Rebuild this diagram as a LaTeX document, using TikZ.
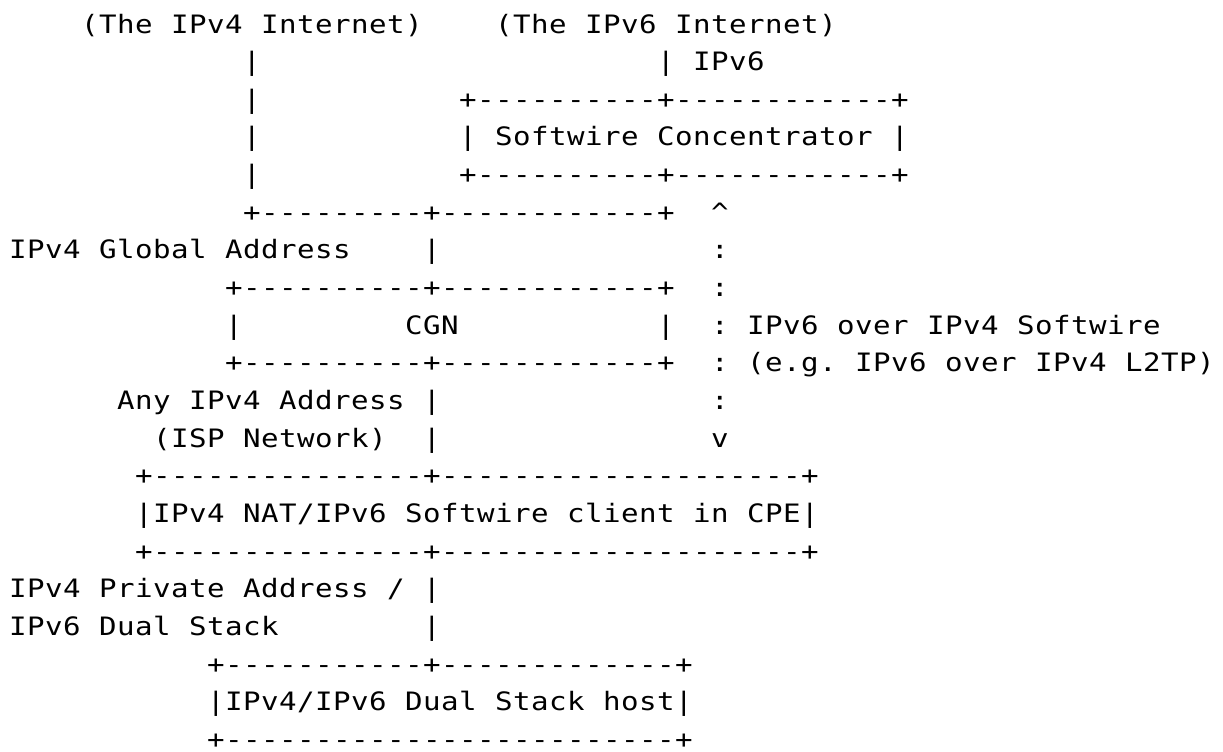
\documentclass[tikz,border=0pt]{standalone}
\usepackage{fontspec}
\usepackage{graphicx}
\setmonofont{DejaVu Sans Mono}
\ExplSyntaxOn
\NewDocumentCommand\monorun{m}{\str_map_inline:nn {#1} {\makebox[13.5pt][c]{\scalebox{1.15}[1]{##1}}}}
\ExplSyntaxOff
\tikzset{
  txt/.style={anchor=base west, inner sep=0pt, outer sep=0pt,
    font=\ttfamily\fontsize{19pt}{22pt}\selectfont, text=black}
}
\begin{document}
\begin{tikzpicture}[x=0.75pt,y=-0.75pt]
\useasboundingbox[fill=white] (0,0) rectangle (1223,751);
% row 1
\node[txt] (inetfour) at (81,33) {\monorun{(The IPv4 Internet)}};
\node[txt] (inetsix) at (495,33) {\monorun{(The IPv6 Internet)}};
% rows 2-5: IPv4 uplink and Softwire Concentrator
\node[txt] (vfour2) at (243,70.65) {\monorun{|}};
\node[txt] (vsix2) at (657,70.65) {\monorun{| IPv6}};
\node[txt] (vfour3) at (243,108.3) {\monorun{|}};
\node[txt] (sctop) at (459,108.3) {\monorun{+----------+------------+}};
\node[txt] (vfour4) at (243,145.95) {\monorun{|}};
\node[txt] (scmid) at (459,145.95) {\monorun{| Softwire Concentrator |}};
\node[txt] (vfour5) at (243,183.6) {\monorun{|}};
\node[txt] (scbot) at (459,183.6) {\monorun{+----------+------------+}};
% row 6
\node[txt] (join6) at (243,221.25) {\monorun{+---------+------------+}};
\node[txt] (arrowup) at (711,221.25) {\monorun{^}};
% row 7
\node[txt] (globaladdr) at (9,258.9) {\monorun{IPv4 Global Address}};
\node[txt] (v7) at (423,258.9) {\monorun{|}};
\node[txt] (dots7) at (711,258.9) {\monorun{:}};
% rows 8-10: CGN
\node[txt] (cgntop) at (225,296.55) {\monorun{+----------+------------+}};
\node[txt] (dots8) at (711,296.55) {\monorun{:}};
\node[txt] (cgnl) at (225,334.2) {\monorun{|}};
\node[txt] (cgn) at (405,334.2) {\monorun{CGN}};
\node[txt] (cgnr) at (657,334.2) {\monorun{|}};
\node[txt] (swlabel) at (711,334.2) {\monorun{: IPv6 over IPv4 Softwire}};
\node[txt] (cgnbot) at (225,371.85) {\monorun{+----------+------------+}};
\node[txt] (swlabelb) at (711,371.85) {\monorun{: (e.g. IPv6 over IPv4 L2TP)}};
% rows 11-12
\node[txt] (anyaddr) at (117,409.5) {\monorun{Any IPv4 Address |}};
\node[txt] (dots11) at (711,409.5) {\monorun{:}};
\node[txt] (isp) at (153,447.15) {\monorun{(ISP Network)}};
\node[txt] (v12) at (423,447.15) {\monorun{|}};
\node[txt] (arrowdown) at (711,447.15) {\monorun{v}};
% rows 13-15: CPE
\node[txt] (cpetop) at (135,484.8) {\monorun{+---------------+--------------------+}};
\node[txt] (cpe) at (135,522.45) {\monorun{|IPv4 NAT/IPv6 Softwire client in CPE|}};
\node[txt] (cpebot) at (135,560.1) {\monorun{+---------------+--------------------+}};
% rows 16-17
\node[txt] (privaddr) at (9,597.75) {\monorun{IPv4 Private Address / |}};
\node[txt] (dualstack) at (9,635.4) {\monorun{IPv6 Dual Stack}};
\node[txt] (v17) at (423,635.4) {\monorun{|}};
% rows 18-20: host
\node[txt] (hosttop) at (207,673.05) {\monorun{+-----------+-------------+}};
\node[txt] (host) at (207,710.7) {\monorun{|IPv4/IPv6 Dual Stack host|}};
\node[txt] (hostbot) at (207,748.35) {\monorun{+-------------------------+}};
\end{tikzpicture}
\end{document}
